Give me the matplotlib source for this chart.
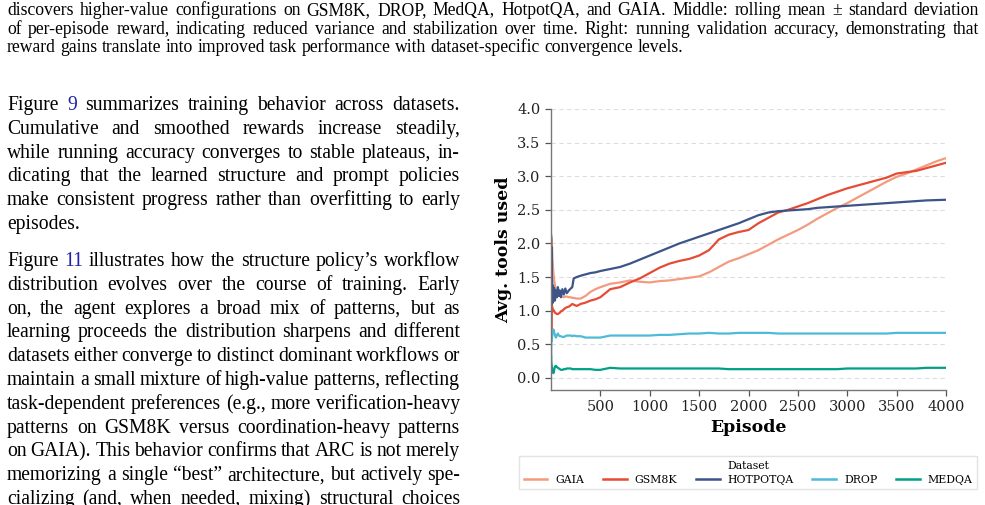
import matplotlib
matplotlib.use("Agg")
import matplotlib.pyplot as plt

# ---------------- data ----------------
episodes = [1, 2, 3, 4, 6, 8, 10, 13, 16, 20, 25, 30, 35, 40, 50, 60, 70, 80, 90, 100, 115, 130,
            145, 160, 180, 200, 215, 230, 260, 300, 350,
            400, 450, 500, 600, 700, 800, 900, 1000, 1100, 1200, 1300, 1400, 1500, 1600, 1700,
            1800, 1900, 2000, 2100, 2200, 2300, 2400, 2500, 2600, 2700, 2800, 2900, 3000, 3100,
            3200, 3300, 3400, 3500, 3600, 3700, 3800, 3900, 4000]

gaia = [2.00, 2.10, 2.10, 2.08, 2.05, 2.00, 1.95, 1.85, 1.75, 1.65, 1.55, 1.48, 1.42, 1.38, 1.32,
        1.30, 1.28, 1.25, 1.24, 1.22, 1.21, 1.20, 1.21, 1.21, 1.20, 1.20,
        1.19, 1.19, 1.18, 1.18, 1.22, 1.28, 1.32, 1.35, 1.40, 1.42, 1.45, 1.43, 1.42, 1.44, 1.45,
        1.47, 1.49, 1.51, 1.57, 1.65, 1.73, 1.78, 1.84, 1.90, 1.98, 2.06, 2.13, 2.20, 2.28, 2.37,
        2.45, 2.53, 2.60, 2.68, 2.76, 2.84, 2.92, 2.99, 3.04, 3.10, 3.16, 3.22, 3.27]

gsm8k = [2.05, 1.20, 0.60, 0.90, 1.05, 1.10, 1.08, 1.05, 1.03, 1.02, 1.00, 1.00, 0.98, 0.97, 0.96,
         0.95, 0.95, 0.96, 0.97, 0.99, 1.00, 1.02, 1.04, 1.05, 1.06, 1.08,
         1.10, 1.09, 1.07, 1.10, 1.12, 1.15, 1.17, 1.20, 1.32, 1.35, 1.42, 1.48, 1.56, 1.64, 1.70,
         1.74, 1.77, 1.82, 1.90, 2.06, 2.13, 2.17, 2.20, 2.30, 2.38, 2.46, 2.50, 2.55, 2.60, 2.66,
         2.72, 2.77, 2.82, 2.86, 2.90, 2.94, 2.98, 3.04, 3.06, 3.08, 3.12, 3.16, 3.20]

hotpotqa = [2.12, 1.50, 1.95, 1.20, 1.70, 1.10, 1.45, 1.15, 1.38, 1.12, 1.35, 1.18, 1.32, 1.15, 1.30,
            1.20, 1.35, 1.22, 1.30, 1.20, 1.32, 1.24, 1.33, 1.26, 1.30, 1.33,
            1.35, 1.48, 1.50, 1.52, 1.54, 1.56, 1.57, 1.59, 1.62, 1.65, 1.70, 1.76, 1.82, 1.88, 1.94,
            2.00, 2.05, 2.10, 2.15, 2.20, 2.25, 2.30, 2.36, 2.42, 2.46, 2.48, 2.49, 2.50, 2.51, 2.53,
            2.54, 2.55, 2.56, 2.57, 2.58, 2.59, 2.60, 2.61, 2.62, 2.63, 2.64, 2.645, 2.65]

drop = [0.30, 0.40, 0.50, 0.58, 0.60, 0.55, 0.58, 0.65, 0.68, 0.70, 0.72, 0.70, 0.66, 0.63, 0.60,
        0.64, 0.66, 0.63, 0.62, 0.62, 0.61, 0.61, 0.62, 0.63, 0.63, 0.63,
        0.62, 0.63, 0.62, 0.62, 0.60, 0.60, 0.60, 0.60, 0.63, 0.63, 0.63, 0.63, 0.63, 0.64, 0.64,
        0.65, 0.66, 0.66, 0.67, 0.66, 0.66, 0.67, 0.67, 0.67, 0.67, 0.66, 0.66, 0.66, 0.66, 0.66,
        0.66, 0.66, 0.66, 0.66, 0.66, 0.66, 0.66, 0.67, 0.67, 0.67, 0.67, 0.67, 0.67]

medqa = [0.32, 0.28, 0.25, 0.22, 0.20, 0.17, 0.15, 0.12, 0.10, 0.08, 0.07, 0.10, 0.14, 0.17, 0.18,
         0.16, 0.15, 0.14, 0.13, 0.12, 0.12, 0.13, 0.13, 0.14, 0.14, 0.14,
         0.13, 0.13, 0.13, 0.13, 0.13, 0.13, 0.12, 0.12, 0.15, 0.14, 0.14, 0.14, 0.14, 0.14, 0.14,
         0.14, 0.14, 0.14, 0.14, 0.14, 0.13, 0.13, 0.13, 0.13, 0.13, 0.13, 0.13, 0.13, 0.13, 0.13,
         0.13, 0.13, 0.14, 0.14, 0.14, 0.14, 0.14, 0.14, 0.14, 0.14, 0.15, 0.15, 0.15]

series_names = ["GAIA", "GSM8K", "HOTPOTQA", "DROP", "MEDQA"]
series_values = [gaia, gsm8k, hotpotqa, drop, medqa]
series_colors = ["#F39B7F", "#E64B35", "#3C5488", "#4DBBD5", "#00A087"]

yticks = [0.0, 0.5, 1.0, 1.5, 2.0, 2.5, 3.0, 3.5, 4.0]
xticks = [500, 1000, 1500, 2000, 2500, 3000, 3500, 4000]

caption_lines = [
    "discovers higher-value configurations on GSM8K, DROP, MedQA, HotpotQA, and GAIA. Middle: rolling mean \u00b1 standard deviation",
    "of per-episode reward, indicating reduced variance and stabilization over time. Right: running validation accuracy, demonstrating that",
    "reward gains translate into improved task performance with dataset-specific convergence levels.",
]
para1 = [
    "Figure {9} summarizes training behavior across datasets.",
    "Cumulative and smoothed rewards increase steadily,",
    "while running accuracy converges to stable plateaus, in-",
    "dicating that the learned structure and prompt policies",
    "make consistent progress rather than overfitting to early",
    "episodes.",
]
para2 = [
    "Figure {11} illustrates how the structure policy\u2019s workflow",
    "distribution evolves over the course of training.  Early",
    "on, the agent explores a broad mix of patterns, but as",
    "learning proceeds the distribution sharpens and different",
    "datasets either converge to distinct dominant workflows or",
    "maintain a small mixture of high-value patterns, reflecting",
    "task-dependent preferences (e.g., more verification-heavy",
    "patterns on GSM8K versus coordination-heavy patterns",
    "on GAIA). This behavior confirms that ARC is not merely",
    "memorizing a single \u201cbest\u201d architecture, but actively spe-",
    "cializing (and, when needed, mixing) structural choices",
]

# ---------------- figure ----------------
W, H = 985, 505
fig = plt.figure(figsize=(W / 100, H / 100), dpi=100)
fig.patch.set_facecolor("white")
renderer = fig.canvas.get_renderer()
SERIF = ["Liberation Serif", "DejaVu Serif"]


def px(x, y):
    return x / W, 1 - y / H


def width_of(s, size):
    t = fig.text(0, 0, s, fontsize=size, family=SERIF)
    w = t.get_window_extent(renderer).width
    t.remove()
    return w


def draw_line(line, x0, x1, y, size, justify):
    words = line.split()
    clean = [w.strip("{}") for w in words]
    widths = [width_of(w, size) for w in clean]
    if justify and len(words) > 1:
        gap = (x1 - x0 - sum(widths)) / (len(words) - 1)
    else:
        gap = width_of("a a", size) - 2 * width_of("a", size)
    x = x0
    for w, c, wd in zip(words, clean, widths):
        color = "#2222aa" if w.startswith("{") else "black"
        fig.text(*px(x, y), c, fontsize=size, family=SERIF, color=color,
                 ha="left", va="baseline")
        x += wd + gap


# caption (size calibrated from natural width of last line)
cap_size = 10 * (687 - 7) / width_of(caption_lines[2], 10)
cap_base = [15, 33.5, 52]
for i, ln in enumerate(caption_lines):
    draw_line(ln, 7, 979, cap_base[i], cap_size, justify=(i < 2))

# body (size calibrated from natural width of "episodes.")
body_size = 10 * 72 / width_of("episodes.", 10)
for i, ln in enumerate(para1):
    draw_line(ln, 7, 460, 110 + 23.8 * i, body_size, justify=(i < len(para1) - 1))
for i, ln in enumerate(para2):
    draw_line(ln, 7, 460, 266 + 23.8 * i, body_size, justify=True)

# ---------------- chart ----------------
ax = fig.add_axes([551 / W, 1 - 390 / H, (946 - 551) / W, (390 - 109) / H])
for name, vals, col in zip(series_names, series_values, series_colors):
    ax.plot(episodes, vals, color=col, lw=1.6, label=name)

ax.set_xlim(0, 4000)
ax.set_ylim(-0.18, 4.0)
ax.set_xticks(xticks)
ax.set_yticks(yticks)
ax.set_yticklabels([f"{v:.1f}" for v in yticks])
ax.tick_params(labelsize=10.5, colors="#555555", labelcolor="#222222", length=4, width=0.9)
for lab in ax.get_xticklabels() + ax.get_yticklabels():
    lab.set_family("DejaVu Serif")
ax.grid(axis="y", linestyle=(0, (4, 3)), color="#dddddd", lw=0.8)
ax.set_axisbelow(True)
for s in ["top", "right"]:
    ax.spines[s].set_visible(False)
for s in ["left", "bottom"]:
    ax.spines[s].set_color("#777777")
    ax.spines[s].set_linewidth(1.0)

ax.set_xlabel("Episode", fontsize=12.5, fontweight="bold", family="DejaVu Serif", labelpad=3)
ax.set_ylabel("Avg. tools used", fontsize=12.5, fontweight="bold", family="DejaVu Serif", labelpad=4)

leg = fig.legend(loc="upper center", bbox_to_anchor=(748 / W, 1 - 451 / H), ncol=5,
                 title="Dataset", fontsize=7.8, title_fontsize=7.8, frameon=True,
                 fancybox=False, edgecolor="#dddddd", handlelength=2.2, handletextpad=0.7,
                 columnspacing=1.75, borderpad=0.45, labelspacing=0.3,
                 prop={"family": "DejaVu Serif", "size": 7.8})
leg.get_title().set_family("DejaVu Serif")
leg.get_frame().set_linewidth(1.0)
for lh in leg.get_lines():
    lh.set_linewidth(1.8)

fig.savefig("out.png", dpi=100, facecolor="white")
